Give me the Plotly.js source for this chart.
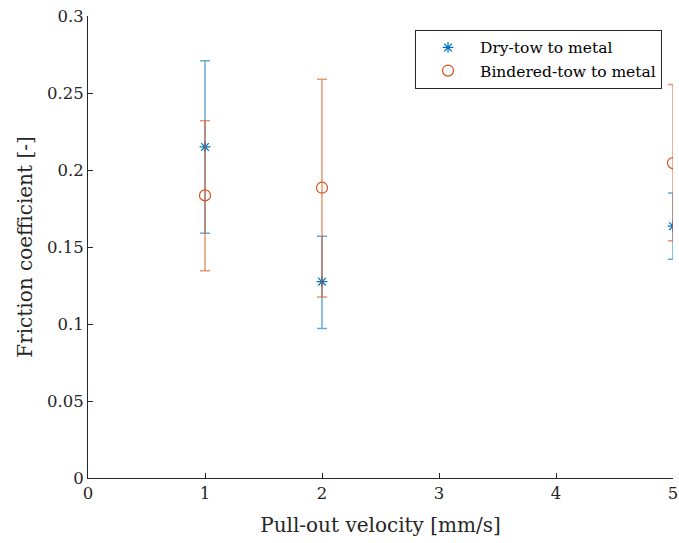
<!DOCTYPE html>
<html>
<head>
<meta charset="utf-8">
<script src="https://cdn.plot.ly/plotly-3.0.1.min.js"></script>
<style>html,body{margin:0;padding:0;background:#fff;}#chart{width:679px;height:543px;}</style>
</head>
<body>
<div id="chart"></div>
<script>
const velocities = [1, 2, 5];
const dryMean = [0.215, 0.1275, 0.1635];
const dryUpper = [0.271, 0.157, 0.185];
const dryLower = [0.159, 0.097, 0.142];
const binderMean = [0.1835, 0.1885, 0.2045];
const binderUpper = [0.232, 0.259, 0.2555];
const binderLower = [0.1345, 0.1175, 0.154];
const xTicks = [0, 1, 2, 3, 4, 5];
const yTicks = [0, 0.05, 0.1, 0.15, 0.2, 0.25, 0.3];

const blue = '#0072BD', orange = '#D95319';
const font = 'DejaVu Serif';

const traces = [
  {
    x: velocities, y: dryMean, type: 'scatter', mode: 'markers', name: 'Dry-tow to metal',
    marker: {symbol: 'asterisk-open', size: 9, color: blue, line: {color: blue, width: 1.2}},
    error_y: {type: 'data', symmetric: false,
      array: dryUpper.map((u, i) => u - dryMean[i]),
      arrayminus: dryMean.map((m, i) => m - dryLower[i]),
      color: 'rgba(0,114,189,0.6)', thickness: 1.5, width: 5}
  },
  {
    x: velocities, y: binderMean, type: 'scatter', mode: 'markers', name: 'Bindered-tow to metal',
    marker: {symbol: 'circle-open', size: 11, color: orange, line: {color: orange, width: 1.2}},
    error_y: {type: 'data', symmetric: false,
      array: binderUpper.map((u, i) => u - binderMean[i]),
      arrayminus: binderMean.map((m, i) => m - binderLower[i]),
      color: 'rgba(217,83,25,0.6)', thickness: 1.5, width: 5}
  }
];

const layout = {
  width: 679, height: 543,
  margin: {l: 88, r: 6, t: 16, b: 65, autoexpand: false},
  paper_bgcolor: '#fff', plot_bgcolor: '#fff',
  font: {family: font, size: 16.5, color: '#262626'},
  showlegend: true,
  legend: {x: 0.559, y: 0.97, xanchor: 'left', yanchor: 'top',
    bordercolor: '#262626', borderwidth: 1, bgcolor: '#fff',
    font: {family: font, size: 15.5, color: '#000'}, tracegroupgap: 0, itemwidth: 54},
  xaxis: {
    range: [0, 5], tickvals: xTicks, ticktext: xTicks.map(String),
    ticks: 'inside', ticklen: 5, tickcolor: '#262626', showgrid: false, zeroline: false,
    showline: true, linecolor: '#262626', linewidth: 1, mirror: false,
    title: {text: 'Pull-out velocity [mm/s]', font: {family: font, size: 20, color: '#262626'}, standoff: 16},
    tickfont: {family: font, size: 16.5, color: '#262626'}
  },
  yaxis: {
    range: [0, 0.3], tickvals: yTicks, ticktext: yTicks.map(String),
    ticks: 'inside', ticklen: 5, tickcolor: '#262626', showgrid: false, zeroline: false,
    showline: true, linecolor: '#262626', linewidth: 1, mirror: false,
    title: {text: 'Friction coefficient [-]', font: {family: font, size: 20, color: '#262626'}, standoff: 8},
    tickfont: {family: font, size: 16.5, color: '#262626'}
  }
};

Plotly.newPlot('chart', traces, layout, {displayModeBar: false, staticPlot: true});
</script>
</body>
</html>
